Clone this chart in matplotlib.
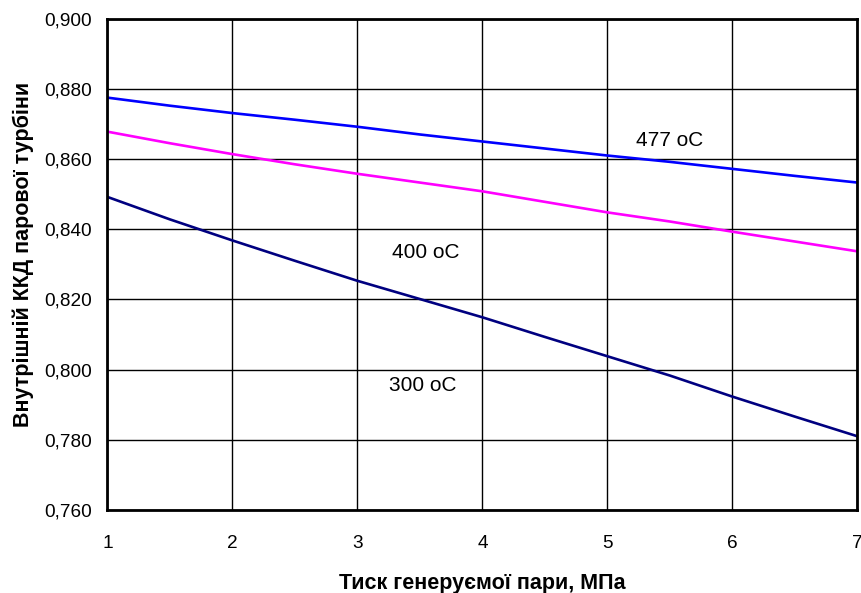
import matplotlib.pyplot as plt
from matplotlib.ticker import FuncFormatter

plt.rcParams['font.family'] = ['Liberation Sans', 'DejaVu Sans']

# --- дані ---
pressure = [1, 1.5, 2, 2.5, 3, 3.5, 4, 4.5, 5, 5.5, 6, 6.5, 7]
eff_477 = [0.8775, 0.8752, 0.8731, 0.8712, 0.8692, 0.8670, 0.8650, 0.8630, 0.8610, 0.8592, 0.8572, 0.8552, 0.8533]
eff_400 = [0.8678, 0.8645, 0.8614, 0.8585, 0.8558, 0.8533, 0.8508, 0.8478, 0.8448, 0.8422, 0.8393, 0.8365, 0.8337]
eff_300 = [0.8492, 0.8428, 0.8368, 0.8310, 0.8253, 0.8201, 0.8149, 0.8093, 0.8038, 0.7983, 0.7923, 0.7866, 0.7810]

labels = ["477 oC", "400 oC", "300 oC"]
label_pos = [(5.5, 0.8653), (3.55, 0.8334), (3.52, 0.7956)]

fig = plt.figure(figsize=(8.62, 5.93), dpi=100)
ax = fig.add_axes([0.1247, 0.140, 0.8700, 0.8285])

ax.plot(pressure, eff_477, color='#0000FF', lw=1.9)
ax.plot(pressure, eff_400, color='#FF00FF', lw=1.9)
ax.plot(pressure, eff_300, color='#000080', lw=1.9)

for txt, (x, y) in zip(labels, label_pos):
    ax.text(x, y, txt, ha='center', va='center', fontsize=15)

ax.set_xlim(1, 7)
ax.set_ylim(0.76, 0.90)
ax.set_xticks(range(1, 8))
ax.set_yticks([0.76 + 0.02 * i for i in range(8)])
ax.yaxis.set_major_formatter(FuncFormatter(lambda v, p: f"{v:.3f}".replace('.', ',')))
ax.tick_params(length=0, labelsize=13.7)
ax.tick_params(axis='y', pad=11)
ax.tick_params(axis='x', pad=18)

ax.grid(True, color='black', lw=1)
for s in ax.spines.values():
    s.set_linewidth(2)
    s.set_color('black')

ax.set_xlabel("Тиск генеруємої пари, МПа", fontsize=15.5, fontweight='bold')
ax.set_ylabel("Внутрішній ККД парової турбіни", fontsize=15.5, fontweight='bold')
ax.xaxis.set_label_coords(0.5, -0.128)
ax.yaxis.set_label_coords(-0.098, 0.52)

plt.savefig("out.png", dpi=100)
